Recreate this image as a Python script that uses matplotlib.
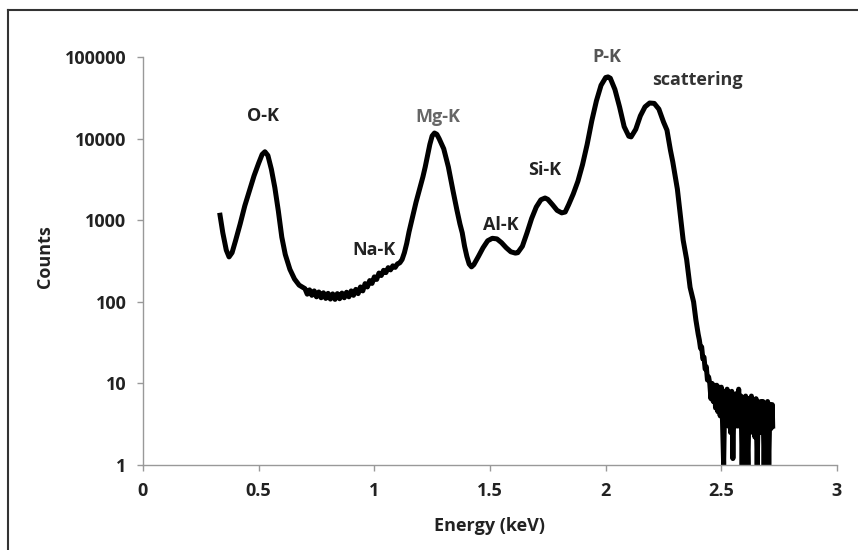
import numpy as np
import matplotlib
matplotlib.use("Agg")
import matplotlib.pyplot as plt
from matplotlib.lines import Line2D

"""
EDX spectrum (counts vs energy), log scale
"""

plt.rcParams['font.family'] = ['Open Sans', 'DejaVu Sans']
plt.rcParams['font.weight'] = 'bold'

# spectrum (keV, counts)
energy = [0.333, 0.345, 0.36, 0.372, 0.385, 0.40, 0.42, 0.44, 0.46, 0.48,
          0.50, 0.515, 0.527, 0.54, 0.555, 0.57, 0.585, 0.60, 0.615, 0.635,
          0.655, 0.675,
          0.70, 0.71, 0.72, 0.73, 0.74, 0.75, 0.76, 0.77, 0.78, 0.79,
          0.80, 0.81, 0.82, 0.83, 0.84, 0.85, 0.86, 0.87, 0.88, 0.89,
          0.90, 0.91, 0.92, 0.93, 0.94, 0.95, 0.96, 0.97, 0.98, 0.99,
          1.00, 1.01, 1.02, 1.03, 1.04, 1.05, 1.06, 1.07, 1.08, 1.09,
          1.10, 1.11, 1.12, 1.13, 1.14, 1.15, 1.16, 1.17, 1.18, 1.19,
          1.20, 1.21, 1.22, 1.23, 1.24, 1.25, 1.26, 1.27, 1.28, 1.30,
          1.32, 1.34, 1.357, 1.37, 1.38, 1.39, 1.40, 1.41, 1.42, 1.43,
          1.45, 1.47, 1.49, 1.51, 1.53, 1.55, 1.57, 1.59, 1.61, 1.62,
          1.64, 1.66, 1.68, 1.70, 1.72, 1.738, 1.75, 1.77, 1.79, 1.81,
          1.825, 1.84, 1.86, 1.88, 1.90, 1.92, 1.94,
          1.96, 1.98, 2.00, 2.01, 2.02, 2.04, 2.06, 2.08, 2.10, 2.11,
          2.13, 2.15, 2.17, 2.19, 2.21, 2.23, 2.25, 2.265, 2.28, 2.29,
          2.31, 2.335, 2.35, 2.365, 2.38, 2.39, 2.40, 2.405, 2.41, 2.415, 2.42,
          2.425, 2.43, 2.435, 2.44, 2.445,
          2.450, 2.455, 2.460, 2.465, 2.470, 2.475, 2.480, 2.485, 2.490, 2.495,
          2.500, 2.505, 2.510, 2.515, 2.520, 2.525, 2.530, 2.535, 2.540, 2.545,
          2.550, 2.555, 2.560, 2.565, 2.570, 2.575, 2.580, 2.585, 2.590, 2.595,
          2.600, 2.605, 2.610, 2.615, 2.620, 2.625, 2.630, 2.635, 2.640, 2.645,
          2.650, 2.655, 2.660, 2.665, 2.670, 2.675, 2.680, 2.685, 2.690, 2.695,
          2.700, 2.705, 2.710, 2.715, 2.720, 2.722]

counts = [1150, 700, 430, 355, 400, 560, 900, 1500, 2300, 3500,
          5000, 6400, 6900, 6200, 4200, 2500, 1300, 620, 380, 250,
          190, 160,
          145, 124, 140, 120, 136, 115, 132, 112, 129, 110,
          127, 108, 125, 107, 126, 109, 128, 112, 131, 115,
          136, 120, 142, 126, 152, 136, 167, 152, 182, 168,
          202, 188, 225, 210, 243, 228, 262, 246, 276, 264,
          292, 300, 330, 400, 520, 720, 950, 1250, 1650, 2100,
          2650, 3400, 4500, 6200, 8500, 10800, 11700, 11300, 10000, 7500,
          4500, 2300, 1330, 900, 700, 480, 360, 290, 268, 285,
          360, 460, 560, 600, 590, 530, 460, 410, 395, 400,
          480, 700, 1050, 1450, 1780, 1870, 1800, 1550, 1320, 1230,
          1260, 1550, 2100, 3000, 4800, 8500, 16500,
          29000, 45000, 56000, 57000, 55000, 40000, 24500, 14000, 10700, 10500,
          13000, 19000, 24500, 27300, 27000, 23000, 16000, 12700, 7200, 5200,
          2400, 570, 330, 150, 100, 60, 40, 34, 27, 28, 20,
          21, 15, 16, 11, 12,
          10, 6.5, 10, 6, 9.5, 5, 9.5, 4.5, 9, 4,
          9, 3.5, 1.0, 8, 3.5, 8.5, 3, 7.5, 2.5, 8,
          1.2, 7, 3, 7.5, 3, 8.5, 3, 7, 1.0, 6.5,
          2.5, 7, 3, 1.0, 6.5, 2.5, 7, 3, 6, 2.2,
          6.5, 1.0, 5.5, 2.5, 6, 2.5, 6, 1.0, 5.5, 2.5,
          6, 1.0, 5.5, 2.8, 5.5, 3]

# peak labels: text, x, y, colour
peak_names = ['O-K', 'Na-K', 'Mg-K', 'Al-K', 'Si-K', 'P-K', 'scattering']
peak_x = [0.52, 1.0, 1.275, 1.545, 1.738, 2.006, 2.395]
peak_y = [19000, 430, 18300, 870, 4150, 100000, 52000]
peak_col = ['#222222', '#222222', '#666666', '#222222', '#222222', '#555555', '#333333']

xticks = [0, 0.5, 1, 1.5, 2, 2.5, 3]
xticklabels = ['0', '0.5', '1', '1.5', '2', '2.5', '3']
yticks = [1, 10, 100, 1000, 10000, 100000]
yticklabels = ['1', '10', '100', '1000', '10000', '100000']

fig = plt.figure(figsize=(8.58, 5.5), dpi=100)
ax = fig.add_axes([143/858, 85/550, 694/858, 408/550])

ax.plot(energy, counts, color='black', lw=3.6, solid_joinstyle='round')
ax.set_yscale('log')
ax.set_xlim(0, 3)
ax.set_ylim(1, 100000)

ax.set_xticks(xticks)
ax.set_xticklabels(xticklabels)
ax.set_yticks(yticks)
ax.set_yticklabels(yticklabels)
ax.yaxis.set_minor_locator(matplotlib.ticker.NullLocator())
ax.tick_params(axis='both', colors='#999999', labelcolor='#222222',
               labelsize=13, length=4, width=1, direction='out', pad=8)

for s in ['top', 'right']:
    ax.spines[s].set_visible(False)
for s in ['left', 'bottom']:
    ax.spines[s].set_color('#999999')
    ax.spines[s].set_linewidth(1)

for name, px, py, c in zip(peak_names, peak_x, peak_y, peak_col):
    ax.text(px, py, name, ha='center', va='center', fontsize=13,
            fontweight='bold', color=c)

ax.set_xlabel('Energy (keV)', fontsize=13, fontweight='bold', color='#222222')
ax.set_ylabel('Counts', fontsize=13, fontweight='bold', color='#222222')
ax.xaxis.set_label_coords(0.5, -0.127)
ax.yaxis.set_label_coords(-0.128, 0.51)

# outer frame (only left and top edges are visible in the source)
fig.add_artist(Line2D([8/858, 8/858], [0, 1 - 10/550], color='#333333', lw=1.5))
fig.add_artist(Line2D([8/858, 1], [1 - 10/550, 1 - 10/550], color='#333333', lw=1.5))

plt.savefig('out.png', dpi=100)
